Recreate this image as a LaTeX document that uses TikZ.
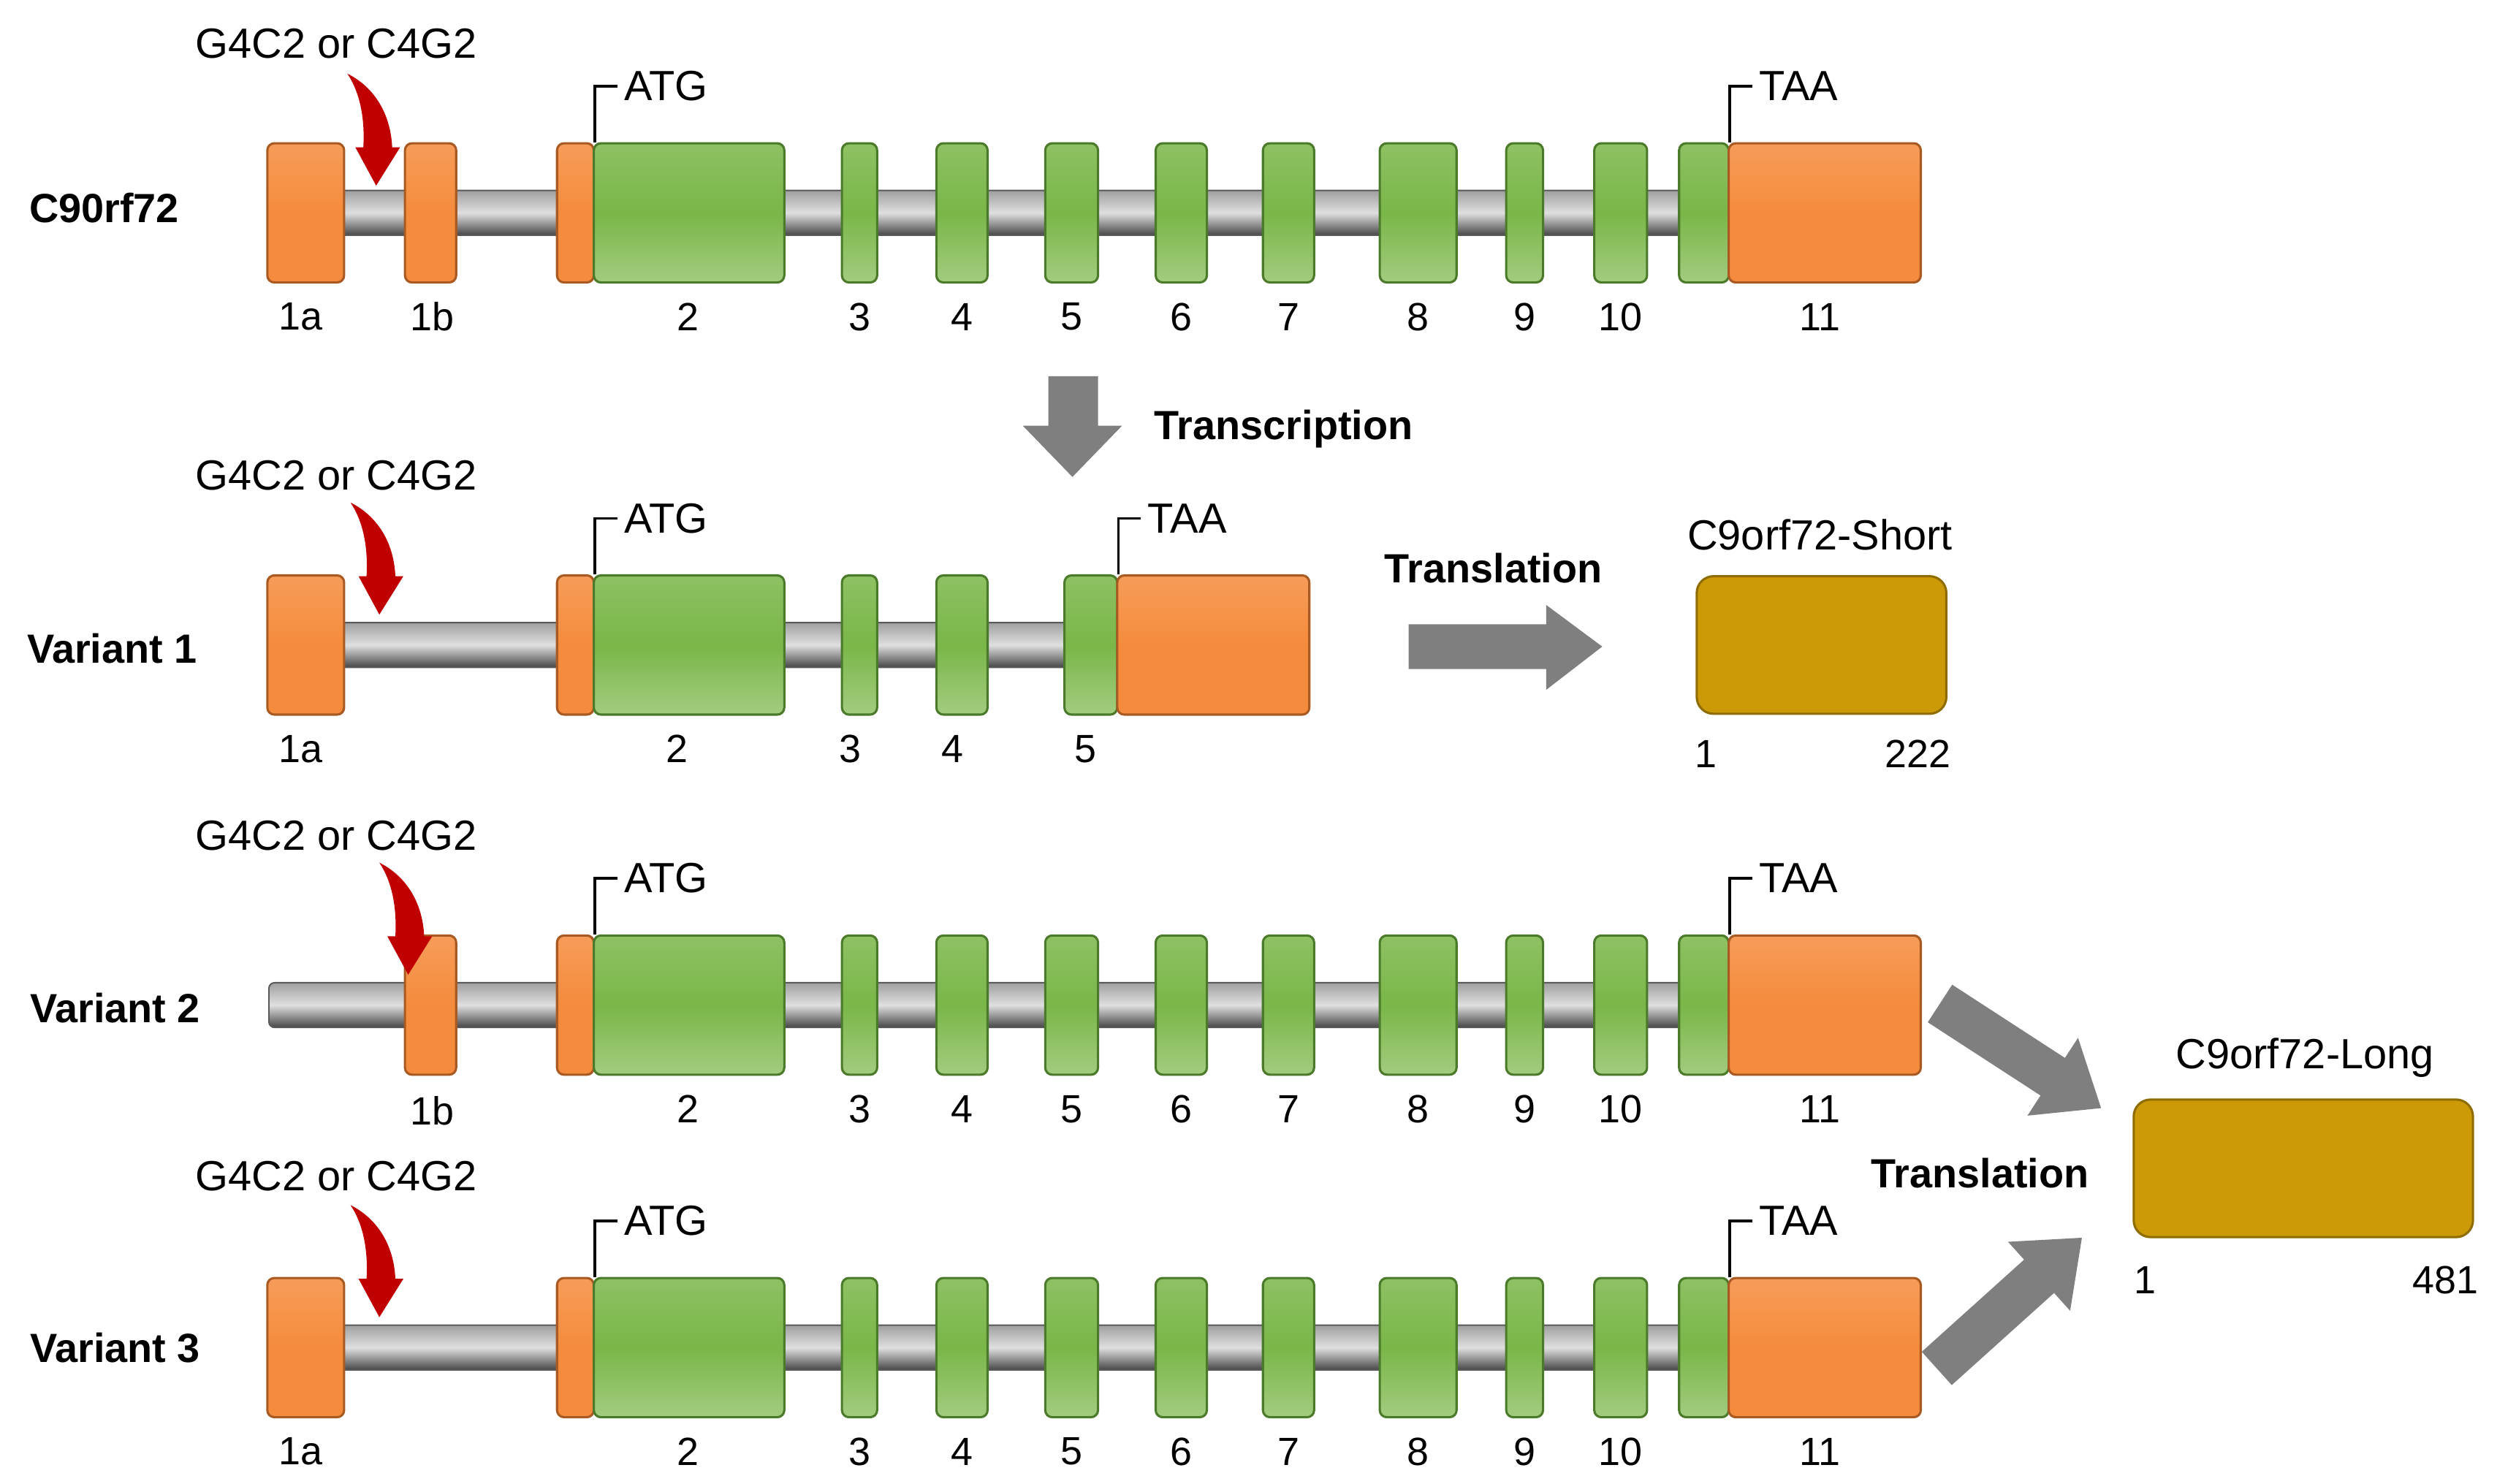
\documentclass[tikz,border=0pt]{standalone}
\usepackage{fontspec}
\setmainfont{Liberation Sans}
\usetikzlibrary{calc}
\definecolor{orn}{HTML}{F58B3C}
\definecolor{ornd}{HTML}{A85A22}
\definecolor{grn}{HTML}{7AB648}
\definecolor{grnd}{HTML}{4A7A2A}
\definecolor{gld}{HTML}{CC9A06}
\definecolor{gldd}{HTML}{8F6C00}
\definecolor{garr}{HTML}{7F7F7F}
\definecolor{redarr}{HTML}{C00000}
\tikzset{
 exo/.style={draw=ornd,line width=0.8pt,rounded corners=2.5pt,inner sep=0pt,top color=orn!85!white,bottom color=orn,middle color=orn},
 exg/.style={draw=grnd,line width=0.8pt,rounded corners=2.5pt,inner sep=0pt,top color=grn!85!white,bottom color=grn!70!white,middle color=grn},
 prot/.style={draw=gldd,line width=0.8pt,rounded corners=6pt,inner sep=0pt,fill=gld,minimum height=1.72cm},
 bar/.style={draw=gray!70!black,line width=0.5pt,top color=gray!75,bottom color=gray!55!black,middle color=gray!25},
 lab/.style={font=\fontsize{14}{16}\selectfont,inner sep=0pt},
 big/.style={font=\fontsize{15}{18}\selectfont,inner sep=0pt},
 bl/.style={font=\bfseries\fontsize{14.5}{17}\selectfont,inner sep=0pt},
 mk/.style={line width=0.9pt,black},
}
\newcommand\ex[5]{%
 \pgfmathsetmacro\ww{(#4-#3)*0.02}\pgfmathsetmacro\cx{(#3+#4)/2}%
 \node[#2,minimum width=\ww cm,minimum height=1.74cm] (#1) at (\cx,#5) {};}
\newcommand\intron[3]{\draw[bar,rounded corners=2pt] (#1,#3-14) rectangle (#2,#3+14);}
\newcommand\redarrow[2]{%
 \fill[redarr,shift={(#1,#2)}] (0,0) -- (15,-24) -- (10,-24) .. controls (9,-46) and (-2,-62) .. (-18,-70)
  .. controls (-10,-58) and (-7,-42) .. (-8,-24) -- (-13,-24) -- cycle;}
\newcommand\repeatlab[1]{\node[big] at (210,#1) {G4C2 or C4G2};}
\newcommand\startstop[2]{% prefix, exon-before-TAA node
 \draw[mk] (#1s.north east) -- ($(#1s.north east)+(0,-35)$) coordinate (#1atg) -- ++(14,0);
 \node[big,anchor=west] at ($(#1atg)+(18,0)$) {ATG};
 \draw[mk] (#2.north east) -- ($(#2.north east)+(0,-35)$) coordinate (#1taa) -- ++(14,0);
 \node[big,anchor=west] at ($(#1taa)+(18,0)$) {TAA};}
\newcommand\fullrow[2]{%
 \ex{#1s}{exo}{348}{371}{#2}
 \ex{#1e2}{exg}{371}{490}{#2}
 \node[lab] at (430,#2+65) {2};
 \foreach \n/\a/\b in {3/526/548,4/585/617,5/653/686,6/722/754,7/789/821,8/862/910,9/941/964,10/996/1029}{%
  \ex{#1e\n}{exg}{\a}{\b}{#2}
  \node[lab] at ($(#1e\n.center)+(0,65)$) {\n};}
 \ex{#1e11g}{exg}{1049}{1080}{#2}
 \ex{#1e11}{exo}{1080}{1200}{#2}
 \node[lab] at (1137,#2+65) {11};
 \startstop{#1}{#1e11g}}
\newcommand\blockarrow[4]{% x,y,angle,length
 \fill[garr,shift={(#1,#2)},rotate=#3] (0,-14) -- (#4-36,-14) -- (#4-36,-29) -- (#4,0) -- (#4-36,29) -- (#4-36,14) -- (0,14) -- cycle;}
\begin{document}
\begin{tikzpicture}[x=0.02cm,y=-0.02cm]
\useasboundingbox (0,0) rectangle (1560,927);
% ---------- Row 1
\node[bl] (r1) at (65,130) {C90rf72};
\intron{200}{1060}{133}
\ex{r1a}{exo}{167}{215}{133}
\ex{r1b}{exo}{253}{285}{133}
\node[lab] at (188,198) {1a};
\node[lab] at (270,198) {1b};
\fullrow{r1}{133}
\repeatlab{27}
\redarrow{235}{116}
% transcription
\fill[garr] (655,235) -- (686,235) -- (686,266) -- (701,266) -- (670,298) -- (639,266) -- (655,266) -- cycle;
\node[bl] at (802,268) {Transcription};
% ---------- Row 2 Variant 1
\node[bl] at (70,405) {Variant 1};
\intron{200}{680}{403}
\ex{v1a}{exo}{167}{215}{403}
\node[lab] at (188,468) {1a};
\ex{v1s}{exo}{348}{371}{403}
\ex{v1e2}{exg}{371}{490}{403}
\ex{v1e3}{exg}{526}{548}{403}
\ex{v1e4}{exg}{585}{617}{403}
\ex{v1e5}{exg}{665}{698}{403}
\ex{v1e11}{exo}{698}{818}{403}
\node[lab] at (423,468) {2};
\node[lab] at (531,468) {3};
\node[lab] at (595,468) {4};
\node[lab] at (678,468) {5};
\startstop{v1}{v1e5}
\repeatlab{297}
\redarrow{237}{384}
\node[bl] at (933,355) {Translation};
\fill[garr] (880,390) -- (966,390) -- (966,378) -- (1001,404) -- (966,431) -- (966,418) -- (880,418) -- cycle;
\node[big] at (1137,334) {C9orf72-Short};
\node[prot,minimum width=3.12cm] (ps) at (1138,403) {};
\node[lab] at (1066,471) {1};
\node[lab] at (1198,471) {222};
% ---------- Row 3 Variant 2
\node[bl] at (72,630) {Variant 2};
\intron{168}{1060}{628}
\ex{v2b}{exo}{253}{285}{628}
\node[lab] at (270,694) {1b};
\fullrow{v2}{628}
\repeatlab{522}
\redarrow{255}{609}
% ---------- Row 4 Variant 3
\node[bl] at (72,842) {Variant 3};
\intron{200}{1060}{842}
\ex{v3a}{exo}{167}{215}{842}
\node[lab] at (188,907) {1a};
\fullrow{v3}{842}
\repeatlab{735}
\redarrow{237}{823}
% ---------- long protein
\blockarrow{1212}{627}{-33}{120}
\blockarrow{1210}{855}{42}{122}
\node[bl] at (1237,733) {Translation};
\node[big] at (1440,661) {C9orf72-Long};
\node[prot,minimum width=4.24cm] (pl) at (1439,730) {};
\node[lab] at (1340,800) {1};
\node[lab] at (1528,800) {481};
\end{tikzpicture}
\end{document}
